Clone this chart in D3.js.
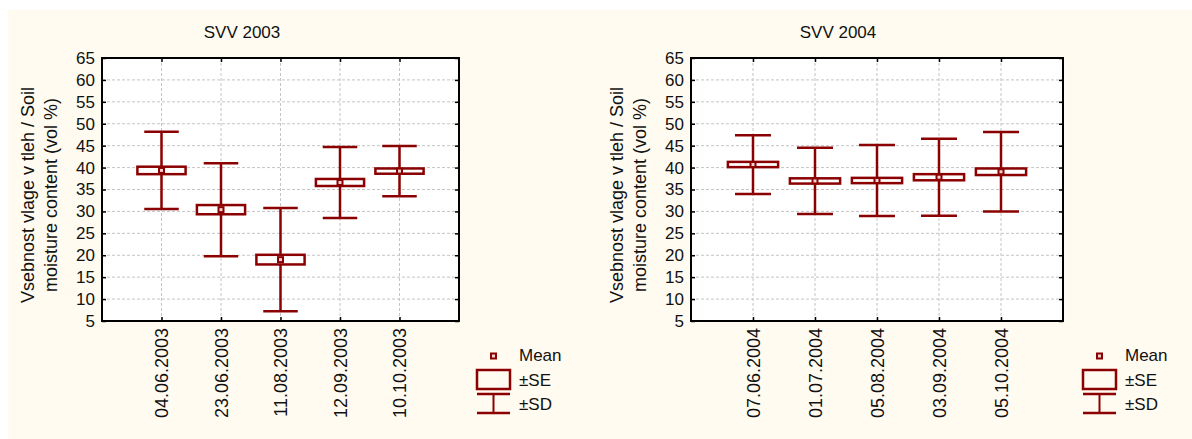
<!DOCTYPE html>
<html>
  <head>
    <meta charset="utf-8">
    <title>SVV 2003 / 2004</title>
    <script type="text/javascript" src="https://d3js.org/d3.v7.min.js"></script>
    <style type="text/css">
      body { margin: 0; background: #ffffff; }
      svg { display: block; font-family: "Liberation Sans", Arial, sans-serif; }
      .grid line { stroke: #c4c4c4; stroke-width: 1; stroke-dasharray: 3,2; }
      .axis path { display: none; }
      .axis line { stroke: #000; stroke-width: 1.5; }
      .axis text { font-size: 17px; fill: #111; font-family: "Liberation Sans", Arial, sans-serif; }
      .xaxis text { font-size: 18px; }
    </style>
  </head>
  <body>
    <script type="text/javascript">
    // data
    var dates2003 = ["04.06.2003", "23.06.2003", "11.08.2003", "12.09.2003", "10.10.2003"];
    var mean2003 = [39.35, 30.4, 19.0, 36.6, 39.2];
    var se2003 = [0.85, 1.05, 1.1, 0.8, 0.6];
    var sd2003 = [8.8, 10.6, 11.8, 8.1, 5.75];

    var dates2004 = ["07.06.2004", "01.07.2004", "05.08.2004", "03.09.2004", "05.10.2004"];
    var mean2004 = [40.7, 36.95, 37.05, 37.8, 39.05];
    var se2004 = [0.6, 0.6, 0.6, 0.7, 0.75];
    var sd2004 = [6.7, 7.55, 8.1, 8.8, 9.05];

    var yTicks = [5, 10, 15, 20, 25, 30, 35, 40, 45, 50, 55, 60, 65];
    var legendLabels = ["Mean", "\u00b1SE", "\u00b1SD"];
    var yLabel = ["Vsebnost vlage v tleh / Soil", "moisture content (vol %)"];

    var red = "#8b0000";
    var width = 1192, height = 439;

    var svg = d3.select("body")
                .append("svg")
                .attr("width", width)
                .attr("height", height);

    // cream background
    svg.append("rect")
       .attr("x", 8).attr("y", 10)
       .attr("width", width - 8).attr("height", height - 10)
       .attr("fill", "#fffbf0");

    function drawPanel(opt) {
      var x0 = opt.left, x1 = opt.right, top = 58, bottom = 321;
      var g = svg.append("g");

      var yScale = d3.scaleLinear().domain([5, 65]).range([bottom, top]);
      var xScale = d3.scalePoint().domain(opt.dates).range([x0, x1]).padding(1);
      var step = xScale.step();

      var rows = opt.dates.map(function(d, i) {
        return {date: d, mean: opt.mean[i], se: opt.se[i], sd: opt.sd[i]};
      });

      // plot area
      g.append("rect")
       .attr("x", x0).attr("y", top)
       .attr("width", x1 - x0).attr("height", bottom - top)
       .attr("fill", "#fff");

      // grid
      var grid = g.append("g").attr("class", "grid");
      grid.selectAll(".h").data(yTicks.slice(1, -1)).enter().append("line")
          .attr("x1", x0).attr("x2", x1)
          .attr("y1", function(d) { return yScale(d); })
          .attr("y2", function(d) { return yScale(d); });
      grid.selectAll(".v").data(opt.dates).enter().append("line")
          .attr("y1", top).attr("y2", bottom)
          .attr("x1", function(d) { return xScale(d); })
          .attr("x2", function(d) { return xScale(d); });

      // axes, ticks pointing inward
      g.append("g").attr("class", "axis")
       .attr("transform", "translate(" + x0 + ",0)")
       .call(d3.axisLeft(yScale).tickValues(yTicks).tickSize(-4).tickPadding(7));
      g.append("g").attr("class", "axis")
       .attr("transform", "translate(" + x1 + ",0)")
       .call(d3.axisRight(yScale).tickValues(yTicks).tickSize(-4).tickFormat(""));
      g.append("g").attr("class", "axis")
       .attr("transform", "translate(0," + top + ")")
       .call(d3.axisTop(xScale).tickSize(-4).tickFormat(""));
      g.append("g").attr("class", "axis xaxis")
       .attr("transform", "translate(0," + bottom + ")")
       .call(d3.axisBottom(xScale).tickSize(-4))
       .selectAll("text")
       .attr("transform", "rotate(-90)")
       .attr("x", -7)
       .attr("y", 0)
       .attr("dy", "0.36em")
       .style("text-anchor", "end");

      // frame
      g.append("rect")
       .attr("x", x0).attr("y", top)
       .attr("width", x1 - x0).attr("height", bottom - top)
       .attr("fill", "none").attr("stroke", "#000").attr("stroke-width", 2);

      // whiskers (SD)
      var capW = step * 0.58, boxW = step * 0.81;
      var marks = g.selectAll(".mark").data(rows).enter().append("g");
      marks.append("line")
           .attr("x1", function(d) { return xScale(d.date); })
           .attr("x2", function(d) { return xScale(d.date); })
           .attr("y1", function(d) { return yScale(d.mean + d.sd); })
           .attr("y2", function(d) { return yScale(d.mean - d.sd); })
           .attr("stroke", red).attr("stroke-width", 2.5);
      [1, -1].forEach(function(s) {
        marks.append("line")
             .attr("x1", function(d) { return xScale(d.date) - capW / 2; })
             .attr("x2", function(d) { return xScale(d.date) + capW / 2; })
             .attr("y1", function(d) { return yScale(d.mean + s * d.sd); })
             .attr("y2", function(d) { return yScale(d.mean + s * d.sd); })
             .attr("stroke", red).attr("stroke-width", 2.5);
      });
      // box (SE)
      marks.append("rect")
           .attr("x", function(d) { return xScale(d.date) - boxW / 2; })
           .attr("y", function(d) { return yScale(d.mean + d.se); })
           .attr("width", boxW)
           .attr("height", function(d) { return yScale(d.mean - d.se) - yScale(d.mean + d.se); })
           .attr("fill", "#fff").attr("stroke", red).attr("stroke-width", 2.5);
      // mean
      marks.append("rect")
           .attr("x", function(d) { return xScale(d.date) - 2.5; })
           .attr("y", function(d) { return yScale(d.mean) - 2.5; })
           .attr("width", 5).attr("height", 5)
           .attr("fill", "#f3d0d0").attr("stroke", red).attr("stroke-width", 2);

      // title
      g.append("text")
       .attr("x", opt.titleX).attr("y", 38)
       .attr("text-anchor", "middle")
       .style("font-size", "17px").attr("fill", "#111")
       .text(opt.title);

      // y label, two lines
      yLabel.forEach(function(t, i) {
        g.append("text")
         .attr("transform", "translate(" + (opt.labelX + i * 23) + ",195) rotate(-90)")
         .attr("text-anchor", "middle")
         .style("font-size", "18px").attr("fill", "#111")
         .text(t);
      });

      // legend
      var lx = opt.legendX, cx = lx + 16.5;
      g.append("rect")
       .attr("x", cx - 2.5).attr("y", 353.5).attr("width", 5).attr("height", 5)
       .attr("fill", "#f3d0d0").attr("stroke", red).attr("stroke-width", 2);
      g.append("rect")
       .attr("x", lx).attr("y", 370).attr("width", 33).attr("height", 19)
       .attr("fill", "none").attr("stroke", red).attr("stroke-width", 2.5);
      g.append("line").attr("x1", lx).attr("x2", lx + 33).attr("y1", 394).attr("y2", 394)
       .attr("stroke", red).attr("stroke-width", 2.5);
      g.append("line").attr("x1", lx).attr("x2", lx + 33).attr("y1", 413).attr("y2", 413)
       .attr("stroke", red).attr("stroke-width", 2.5);
      g.append("line").attr("x1", cx).attr("x2", cx).attr("y1", 394).attr("y2", 413)
       .attr("stroke", red).attr("stroke-width", 2);
      legendLabels.forEach(function(t, i) {
        g.append("text")
         .attr("x", lx + 42).attr("y", 361 + i * 24.5)
         .style("font-size", "17px").attr("fill", "#111")
         .text(t);
      });
    }

    drawPanel({left: 102, right: 459, dates: dates2003, mean: mean2003, se: se2003, sd: sd2003,
               title: "SVV 2003", titleX: 242, labelX: 34, legendX: 477});
    drawPanel({left: 691, right: 1063, dates: dates2004, mean: mean2004, se: se2004, sd: sd2004,
               title: "SVV 2004", titleX: 838, labelX: 623, legendX: 1083});
    </script>
  </body>
</html>
